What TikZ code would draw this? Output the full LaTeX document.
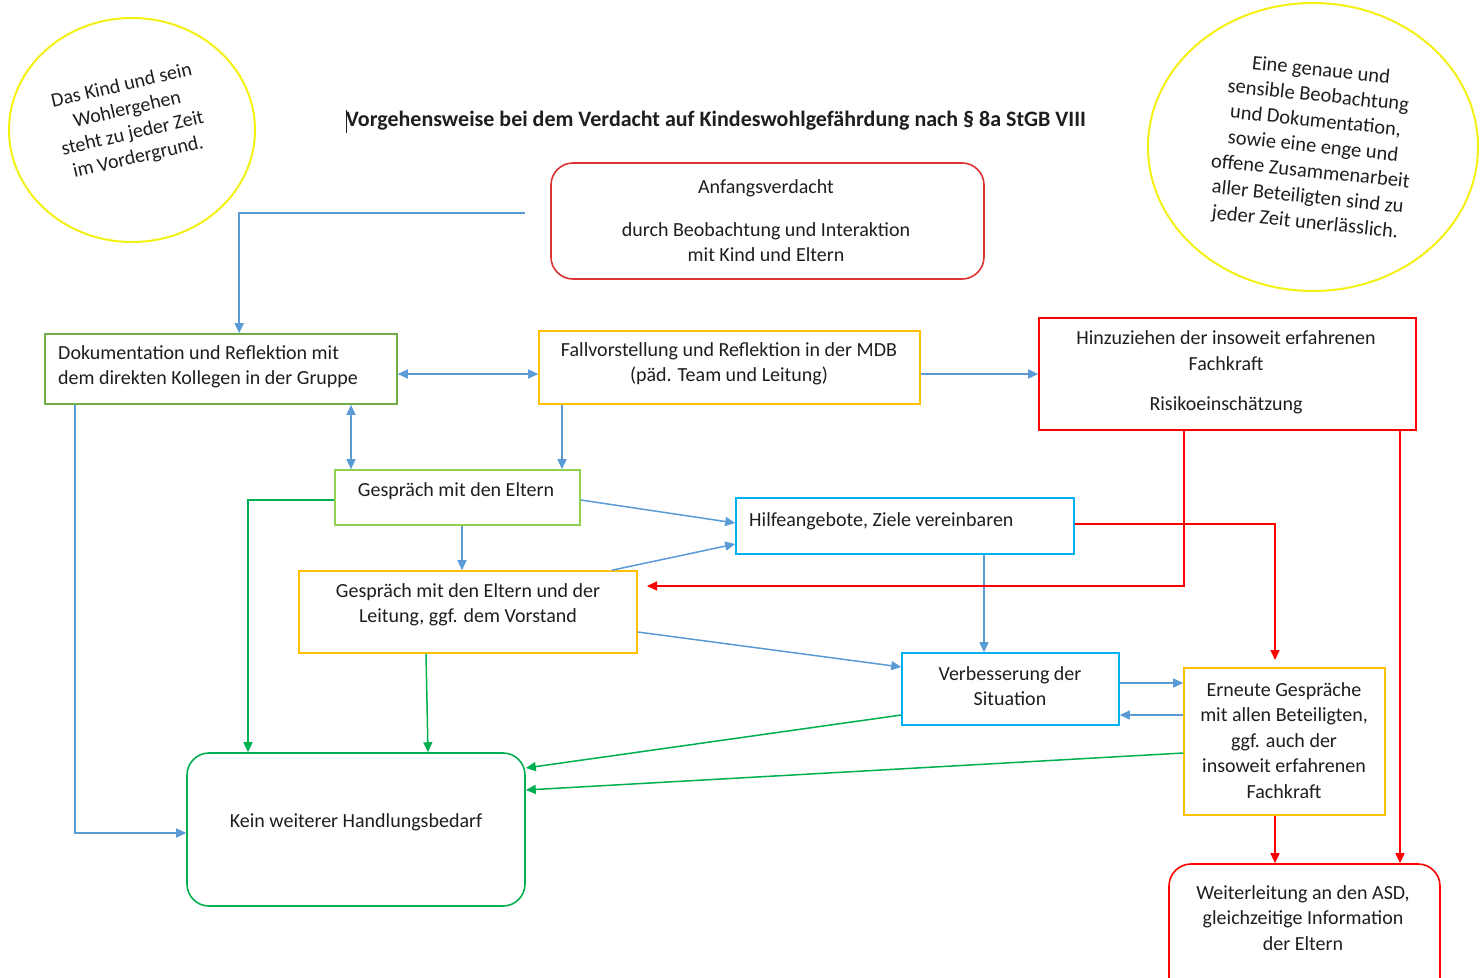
\documentclass[tikz,border=0pt]{standalone}
\usepackage{fontspec}
\setmainfont{Carlito}
\usetikzlibrary{arrows.meta,fit,calc}
\definecolor{cblue}{RGB}{91,155,213}
\definecolor{cgreen}{RGB}{0,176,80}
\definecolor{lgreen}{RGB}{112,173,71}
\definecolor{llgreen}{RGB}{146,208,80}
\definecolor{corange}{RGB}{255,192,0}
\definecolor{ccyan}{RGB}{0,176,240}
\definecolor{cred}{RGB}{255,0,0}
\definecolor{dred}{RGB}{220,50,50}
\definecolor{cyell}{RGB}{245,240,20}
\definecolor{ctext}{RGB}{30,30,30}
\tikzset{
  box/.style={draw=#1, line width=1.6pt, inner sep=0pt},
  rbox/.style={draw=#1, line width=1.6pt, inner sep=0pt, rounded corners=22pt},
  txt/.style={text=ctext, align=center, inner sep=0pt, font=\fontsize{20}{25.5}\selectfont},
  conn/.style={draw=#1, line width=1.5pt, -{Triangle[length=10pt,width=9pt]}},
  dconn/.style={draw=#1, line width=1.5pt, {Triangle[length=10pt,width=9pt]}-{Triangle[length=10pt,width=9pt]}},
}
\begin{document}
\begin{tikzpicture}[x=1pt,y=-1pt]
\useasboundingbox (0,0) rectangle (1482,977);
\fill[white] (0,0) rectangle (1482,977);
\begin{scope}
\clip (0,0) rectangle (1482,977);
% ellipses
\draw[cyell, line width=2pt] (132,130) ellipse [x radius=123, y radius=112];
\draw[cyell, line width=2pt] (1313,147) ellipse [x radius=165, y radius=144];
\node[txt, rotate=13, font=\fontsize{20}{24.5}\selectfont] (tleft) at (130,122) {Das Kind und sein\\Wohlergehen\\steht zu jeder Zeit\\im Vordergrund.};
\node[txt, rotate=-6, font=\fontsize{20.5}{25.5}\selectfont] (tright) at (1313,147) {Eine genaue und\\sensible Beobachtung\\und Dokumentation,\\sowie eine enge und\\offene Zusammenarbeit\\aller Beteiligten sind zu\\jeder Zeit unerlässlich.};
% title
\node[txt, font=\fontsize{22}{26}\bfseries] (title) at (716,121) {Vorgehensweise bei dem Verdacht auf Kindeswohlgefährdung nach § 8a StGB VIII};
\draw[ctext, line width=0.8pt] (346,110) -- (346,133);
% boxes
\node[rbox=dred, fit={(551,163) (984,279)}] (anf) {};
\node[box=lgreen, fit={(45,334) (397,404)}] (doku) {};
\node[box=corange, fit={(539,331) (920,404)}] (fall) {};
\node[box=cred, fit={(1039,318) (1416,430)}] (hinz) {};
\node[box=llgreen, fit={(335,470) (580,525)}] (ge) {};
\node[box=ccyan, fit={(736,498) (1074,554)}] (hilfe) {};
\node[box=corange, fit={(299,571) (637,653)}] (gel) {};
\node[box=ccyan, fit={(902,653) (1119,725)}] (verb) {};
\node[box=corange, fit={(1184,668) (1385,815)}] (ern) {};
\node[rbox=cgreen, fit={(187,753) (525,906)}] (kein) {};
\node[rbox=cred, fit={(1169,864) (1440,1000)}] (weit) {};
% texts
\node[txt] (anf1) at (766,188) {Anfangsverdacht};
\node[txt] (anf2) at (766,242) {durch Beobachtung und Interaktion\\mit Kind und Eltern};
\node[txt, anchor=west, align=left] (dokut) at (58,367) {Dokumentation und Reflektion mit\\dem direkten Kollegen in der Gruppe};
\node[txt] (fallt) at (729,364) {Fallvorstellung und Reflektion in der MDB\\(päd. Team und Leitung)};
\node[txt] (hinz1) at (1226,350.5) {Hinzuziehen der insoweit erfahrenen\\Fachkraft};
\node[txt] (hinz2) at (1226,405) {Risikoeinschätzung};
\node[txt] (get) at (456,491) {Gespräch mit den Eltern};
\node[txt, anchor=west] (hilfet) at (749,521) {Hilfeangebote, Ziele vereinbaren};
\node[txt] (gelt) at (468,605) {Gespräch mit den Eltern und der\\Leitung, ggf. dem Vorstand};
\node[txt] (verbt) at (1010,686) {Verbesserung der\\Situation};
\node[txt] (ernt) at (1284,740.5) {Erneute Gespräche\\mit allen Beteiligten,\\ggf. auch der\\insoweit erfahrenen\\Fachkraft};
\node[txt] (keint) at (356,822) {Kein weiterer Handlungsbedarf};
\node[txt] (weitt) at (1303,918) {Weiterleitung an den ASD,\\gleichzeitige Information\\der Eltern};
% blue connectors
\coordinate (s1) at (525,213);
\draw[conn=cblue] (s1) -| ([xshift=195pt]doku.north west);
\draw[dconn=cblue] (doku.east |- 0,374) -- (fall.west |- 0,374);
\draw[dconn=cblue] (351,0 |- doku.south) -- (351,0 |- ge.north);
\draw[conn=cblue] (562,0 |- fall.south) -- (562,0 |- ge.north);
\draw[conn=cblue] (fall.east |- 0,374) -- (hinz.west |- 0,374);
\draw[conn=cblue] (75,0 |- doku.south) |- (kein.west |- 0,833);
\draw[conn=cblue] (ge.east |- 0,500) -- (hilfe.west |- 0,523);
\draw[conn=cblue] (462,0 |- ge.south) -- (462,0 |- gel.north);
\draw[conn=cblue] (612,0 |- gel.north) -- (hilfe.west |- 0,544);
\draw[conn=cblue] (984,0 |- hilfe.south) -- (984,0 |- verb.north);
\draw[conn=cblue] (gel.east |- 0,632) -- (verb.west |- 0,667);
\draw[conn=cblue] (verb.east |- 0,683) -- (ern.west |- 0,683);
\draw[conn=cblue] (ern.west |- 0,715) -- (verb.east |- 0,715);
% green connectors
\draw[conn=cgreen] (ge.west |- 0,500) -| (248,0 |- kein.north);
\draw[conn=cgreen] (426,0 |- gel.south) -- (428,0 |- kein.north);
\draw[conn=cgreen] (verb.west |- 0,715) -- (kein.east |- 0,768);
\draw[conn=cgreen] (ern.west |- 0,753) -- (kein.east |- 0,790);
% red connectors
\coordinate (r1) at (647,586);
\draw[conn=cred] (1184,0 |- hinz.south) |- (r1);
\coordinate (r2) at (1275,660);
\draw[conn=cred] (hilfe.east |- 0,524) -| (r2);
\draw[conn=cred] (1400,0 |- hinz.south) -- (1400,0 |- weit.north);
\draw[conn=cred] (1275,0 |- ern.south) -- (1275,0 |- weit.north);
\end{scope}
\end{tikzpicture}
\end{document}
